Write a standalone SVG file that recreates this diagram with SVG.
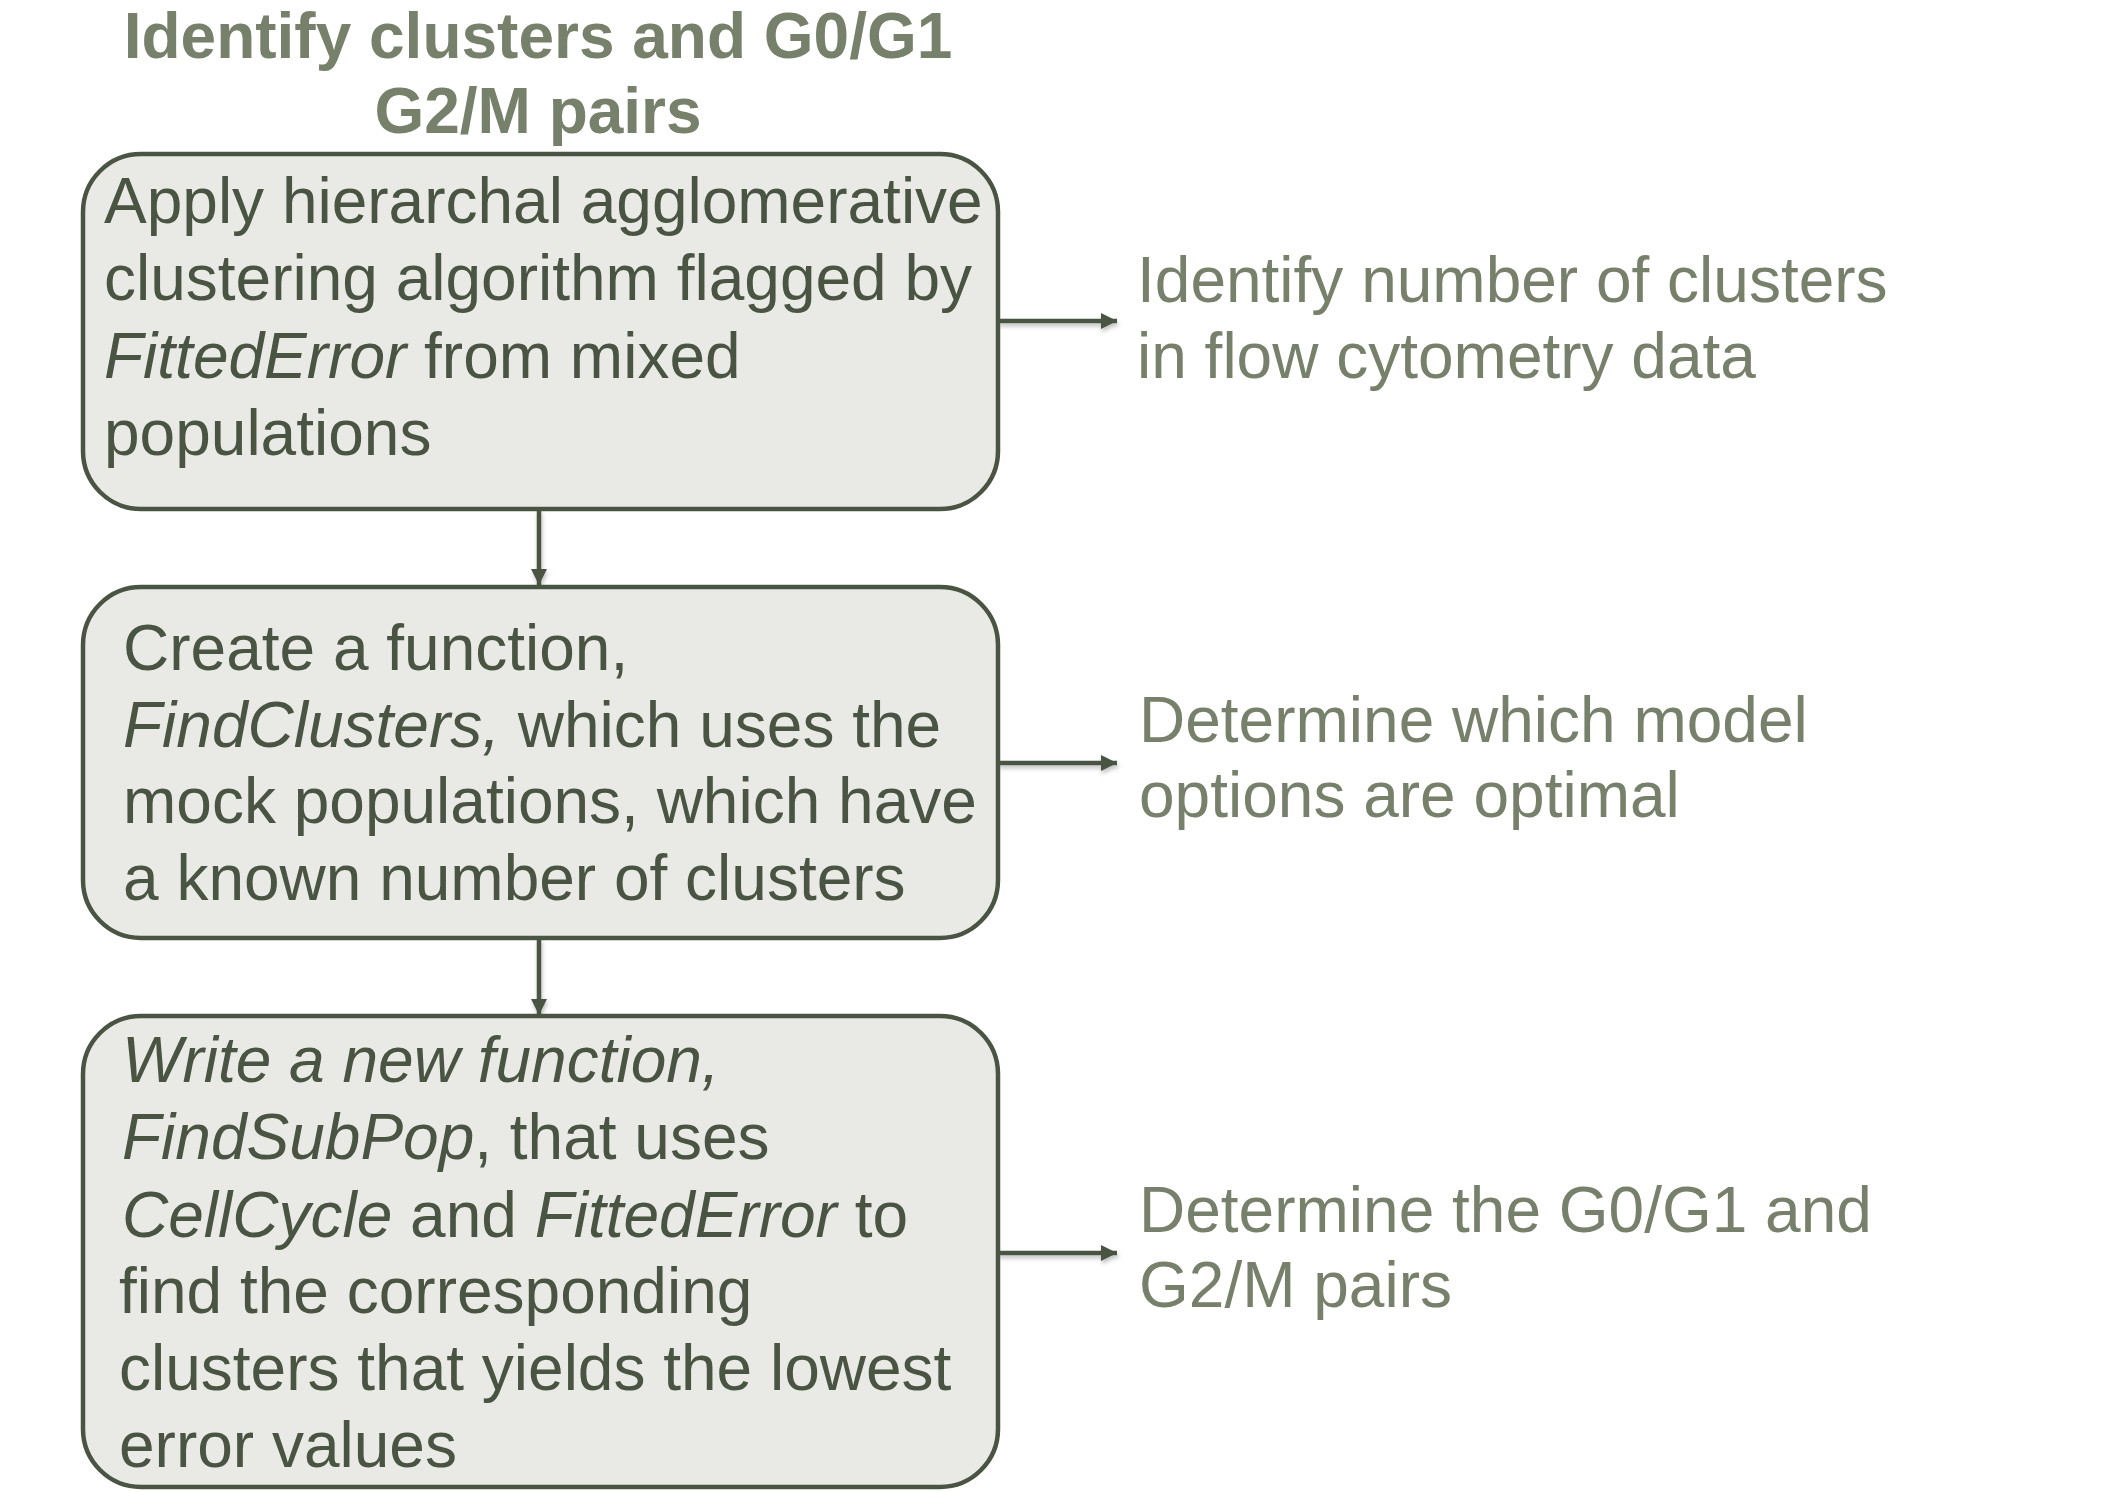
<svg xmlns="http://www.w3.org/2000/svg" width="2104" height="1492" viewBox="0 0 2104 1492">
<defs>
<style>
.box{fill:#e9eae5;stroke:#4a5443;stroke-width:4.5}
.t{font-family:"Liberation Sans",Arial,sans-serif;font-size:64px;fill:#4a5443}
.r{font-family:"Liberation Sans",Arial,sans-serif;font-size:64px;fill:#76806a}
.title{font-family:"Liberation Sans",Arial,sans-serif;font-size:64px;font-weight:bold;fill:#76806a;text-anchor:middle}
.i{font-style:italic}
.c{stroke:#4a5443;stroke-width:4.5;fill:none}
</style>
<marker id="ah" markerWidth="18" markerHeight="18" refX="16" refY="9" orient="auto" markerUnits="userSpaceOnUse">
<path d="M0,1 L16,9 L0,17 Z" fill="#4a5443"/>
</marker>
<filter id="sh" filterUnits="userSpaceOnUse" x="0" y="0" width="2104" height="1492">
<feDropShadow dx="1" dy="3" stdDeviation="2" flood-color="#000" flood-opacity="0.25"/>
</filter>
</defs>
<rect width="2104" height="1492" fill="#ffffff"/>
<g id="title">
<text class="title" x="538" y="58">Identify clusters and G0/G1</text>
<text class="title" x="538" y="133">G2/M pairs</text>
</g>
<g id="connectors" filter="url(#sh)">
<line class="c" x1="539" y1="510" x2="539" y2="585" marker-end="url(#ah)"/>
<line class="c" x1="539" y1="938" x2="539" y2="1015" marker-end="url(#ah)"/>
<line class="c" x1="998" y1="321" x2="1117" y2="321" marker-end="url(#ah)"/>
<line class="c" x1="998" y1="763" x2="1117" y2="763" marker-end="url(#ah)"/>
<line class="c" x1="998" y1="1253" x2="1117" y2="1253" marker-end="url(#ah)"/>
</g>
<g id="node1">
<rect class="box" x="83" y="154" width="915" height="355" rx="58" ry="58"/>
<text class="t" x="104" y="223">Apply hierarchal agglomerative</text>
<text class="t" x="104" y="300">clustering algorithm flagged by</text>
<text class="t" x="104" y="378"><tspan class="i">FittedError</tspan> from mixed</text>
<text class="t" x="104" y="455">populations</text>
</g>
<g id="node2">
<rect class="box" x="83" y="587" width="915" height="351" rx="58" ry="58"/>
<text class="t" x="123" y="670">Create a function,</text>
<text class="t" x="123" y="747"><tspan class="i">FindClusters,</tspan> which uses the</text>
<text class="t" x="123" y="823">mock populations, which have</text>
<text class="t" x="123" y="900">a known number of clusters</text>
</g>
<g id="node3">
<rect class="box" x="83" y="1016" width="915" height="471" rx="58" ry="58"/>
<text class="t i" x="122" y="1082">Write a new function,</text>
<text class="t" x="122" y="1159"><tspan class="i">FindSubPop</tspan>, that uses</text>
<text class="t" x="122" y="1237"><tspan class="i">CellCycle</tspan> and <tspan class="i">FittedError</tspan> to</text>
<text class="t" x="119" y="1313">find the corresponding</text>
<text class="t" x="119" y="1390">clusters that yields the lowest</text>
<text class="t" x="119" y="1467">error values</text>
</g>
<g id="out1">
<text class="r" x="1137" y="302">Identify number of clusters</text>
<text class="r" x="1137" y="378">in flow cytometry data</text>
</g>
<g id="out2">
<text class="r" x="1139" y="742">Determine which model</text>
<text class="r" x="1139" y="817">options are optimal</text>
</g>
<g id="out3">
<text class="r" x="1139" y="1232">Determine the G0/G1 and</text>
<text class="r" x="1139" y="1307">G2/M pairs</text>
</g>
</svg>
